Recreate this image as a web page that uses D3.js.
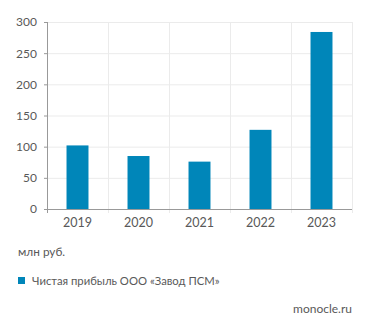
<!DOCTYPE html>
<html>
<head>
<meta charset="utf-8">
<script src="https://cdn.jsdelivr.net/npm/d3@7"></script>
<style>
  body { margin: 0; background: #fff; }
  #chart { width: 371px; height: 331px; }
  text { font-family: Lato, sans-serif; fill: #595959; }
</style>
</head>
<body>
<div id="chart"></div>
<script>
// чистая прибыль, млн руб.
var years = ["2019", "2020", "2021", "2022", "2023"];
var profit = [102, 85, 76, 127, 284];
var yTicks = [0, 50, 100, 150, 200, 250, 300];
var unitLabel = "млн руб.";
var seriesName = "Чистая прибыль ООО «Завод ПСМ»";
var sourceLabel = "monocle.ru";

var barColor = "rgb(0,134,185)";
var gridColor = "#ebebeb";
var axisColor = "#999";

var width = 371, height = 331;
var margin = { left: 47, right: 19, top: 22, bottom: 122 };
var chartWidth = width - margin.left - margin.right;
var chartHeight = height - margin.top - margin.bottom;

var svg = d3.select("#chart").append("svg")
  .attr("width", width)
  .attr("height", height);

var g = svg.append("g")
  .attr("transform", "translate(" + margin.left + "," + margin.top + ")");

var x = d3.scaleBand().domain(years).range([0, chartWidth]).paddingInner(0).paddingOuter(0);
var y = d3.scaleLinear().domain([0, 300]).range([chartHeight, 0]);

// horizontal grid
g.selectAll(".hgrid").data(yTicks.filter(function (d) { return d > 0; }))
  .enter().append("line")
  .attr("x1", 0).attr("x2", chartWidth)
  .attr("y1", function (d) { return y(d) + 0.5; })
  .attr("y2", function (d) { return y(d) + 0.5; })
  .attr("stroke", gridColor);

// vertical grid at category borders
var borders = years.slice(1).map(function (d) { return x(d); }).concat([chartWidth]);
g.selectAll(".vgrid").data(borders)
  .enter().append("line")
  .attr("x1", function (d) { return Math.round(d) + 0.5; })
  .attr("x2", function (d) { return Math.round(d) + 0.5; })
  .attr("y1", 0).attr("y2", chartHeight + 4)
  .attr("stroke", gridColor);

// bars
var barW = x.bandwidth() * 0.36;
g.selectAll(".bar").data(profit)
  .enter().append("rect")
  .attr("x", function (d, i) { return x(years[i]) + (x.bandwidth() - barW) / 2; })
  .attr("y", function (d) { return y(d); })
  .attr("width", barW)
  .attr("height", function (d) { return chartHeight - y(d); })
  .attr("fill", barColor);

// y axis
var yAxis = g.append("g")
  .call(d3.axisLeft(y).tickValues(yTicks).tickSize(3).tickPadding(7));
yAxis.select(".domain").attr("stroke", axisColor).attr("d", "M0.5,0V" + (chartHeight + 4));
yAxis.selectAll(".tick line").attr("stroke", axisColor);
yAxis.selectAll("text").style("font-size", "12px").attr("fill", "#595959");

// x axis
var xAxis = g.append("g")
  .attr("transform", "translate(0," + chartHeight + ")")
  .call(d3.axisBottom(x).tickSize(0).tickPadding(9));
xAxis.select(".domain").attr("stroke", axisColor).attr("d", "M0,0.5H" + chartWidth);
xAxis.selectAll("text").style("font-size", "12.5px").attr("fill", "#595959");

// units
svg.append("text")
  .attr("x", 18).attr("y", 256)
  .style("font-size", "11.8px")
  .text(unitLabel);

// legend
svg.append("rect")
  .attr("x", 18).attr("y", 277)
  .attr("width", 7).attr("height", 7)
  .attr("fill", barColor);
svg.append("text")
  .attr("x", 32).attr("y", 284.5)
  .style("font-size", "11.3px")
  .text(seriesName);

// source
svg.append("text")
  .attr("x", 352).attr("y", 312.5)
  .attr("text-anchor", "end")
  .style("font-size", "12px")
  .text(sourceLabel);
</script>
</body>
</html>
